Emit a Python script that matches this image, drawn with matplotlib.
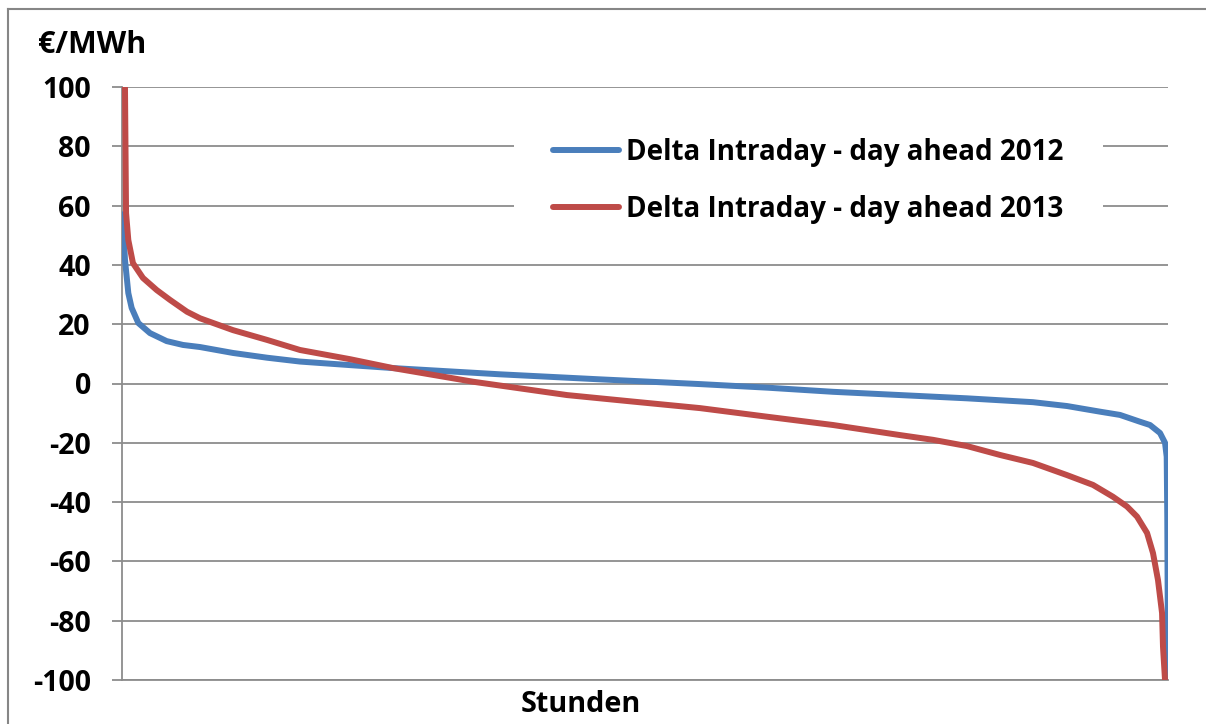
import matplotlib.pyplot as plt
from matplotlib.lines import Line2D

# sorted hourly price differences (duration curves), hour index -> EUR/MWh
hours_2012 = [0, 6, 25, 53, 81, 137, 235, 375, 512, 655, 932, 1218, 1495, 1915,
              2276, 3174, 4014, 4854, 5417, 5971, 6534, 7096, 7650, 7936, 8213,
              8381, 8549, 8633, 8717, 8759, 8773, 8778, 8782, 8784]
delta_2012 = [58, 56.3, 41.7, 30.5, 25.5, 20.4, 17, 14.3, 13, 12.3, 10.3, 8.7, 7.4, 6.2,
              5.2, 3.1, 1.4, -0.2, -1.4, -2.8, -3.9, -5, -6.3, -7.6, -9.5,
              -10.6, -12.9, -14, -16.7, -20, -24.7, -45, -78.6, -100]

hours_2013 = [25, 34, 53, 92, 176, 292, 403, 546, 655, 932, 1218, 1495, 1915, 2276,
              2948, 3737, 4291, 4854, 5417, 5971, 6534, 6811, 7096, 7373, 7650,
              7936, 8154, 8322, 8440, 8524, 8608, 8658, 8700, 8734, 8742, 8759]
delta_2013 = [100, 57.5, 48.4, 40.6, 35.6, 31.5, 28.2, 24.2, 22, 18, 14.7, 11.3, 8.2, 5.2,
              0.6, -3.9, -6.1, -8.3, -11.2, -14, -17.4, -19, -21.1, -24.1, -26.8,
              -30.9, -34.2, -38.2, -41.5, -44.9, -50.4, -57.2, -66.3, -77.4, -88.8, -100]

label_2012 = 'Delta Intraday - day ahead 2012'
label_2013 = 'Delta Intraday - day ahead 2013'
y_ticks = list(range(-100, 101, 20))

plt.rcParams['font.family'] = ['Open Sans', 'DejaVu Sans']
plt.rcParams['font.weight'] = 'bold'
plt.rcParams['axes.unicode_minus'] = False

fig = plt.figure(figsize=(12.06, 7.24), dpi=100)
ax = fig.add_axes([122 / 1206, 1 - 680 / 724, (1168 - 122) / 1206, (680 - 87) / 724])

grid_col = '#8c8c8c'
ax.plot(hours_2012, delta_2012, color='#4a7ebb', lw=4.3, label=label_2012,
        solid_capstyle='butt', solid_joinstyle='round', zorder=3)
ax.plot(hours_2013, delta_2013, color='#be4b48', lw=4.3, label=label_2013,
        solid_capstyle='butt', solid_joinstyle='round', zorder=3)

ax.set_xlim(0, 8784)
ax.set_ylim(-100, 100)
ax.set_yticks(y_ticks)
ax.set_xticks([])
ax.yaxis.grid(True, color=grid_col, lw=1.3)
ax.set_axisbelow(True)
ax.tick_params(axis='y', length=7.5, width=1.3, color=grid_col, pad=15,
               labelsize=20.5)
for lab in ax.get_yticklabels():
    lab.set_fontweight('bold')
for side in ['top', 'right']:
    ax.spines[side].set_visible(False)
for side in ['left', 'bottom']:
    ax.spines[side].set_color(grid_col)
    ax.spines[side].set_linewidth(1.3)

leg = ax.legend(loc='center left', bbox_to_anchor=(500 / 1206, 1 - 181 / 724),
                bbox_transform=fig.transFigure, fontsize=20, frameon=True,
                fancybox=False, edgecolor='none', facecolor='white', framealpha=1,
                handlelength=2.4, handletextpad=0.25, labelspacing=1.0,
                borderpad=1.4)
for t in leg.get_texts():
    t.set_fontweight('bold')
for h in leg.get_lines():
    h.set_solid_capstyle('round')

fig.text(38 / 1206, 1 - 45 / 724, '€/MWh', fontsize=22, fontweight='bold',
         ha='left', va='center')
fig.text(581 / 1206, 1 - 705 / 724, 'Stunden', fontsize=20.8, fontweight='bold',
         ha='center', va='center')

# outer chart frame (top and left edges)
fig.add_artist(Line2D([8 / 1206, 1], [1 - 9 / 724, 1 - 9 / 724],
                      transform=fig.transFigure, color='#868686', lw=1.5))
fig.add_artist(Line2D([8 / 1206, 8 / 1206], [0, 1 - 9 / 724],
                      transform=fig.transFigure, color='#868686', lw=1.5))

fig.savefig('out.png', dpi=100)
